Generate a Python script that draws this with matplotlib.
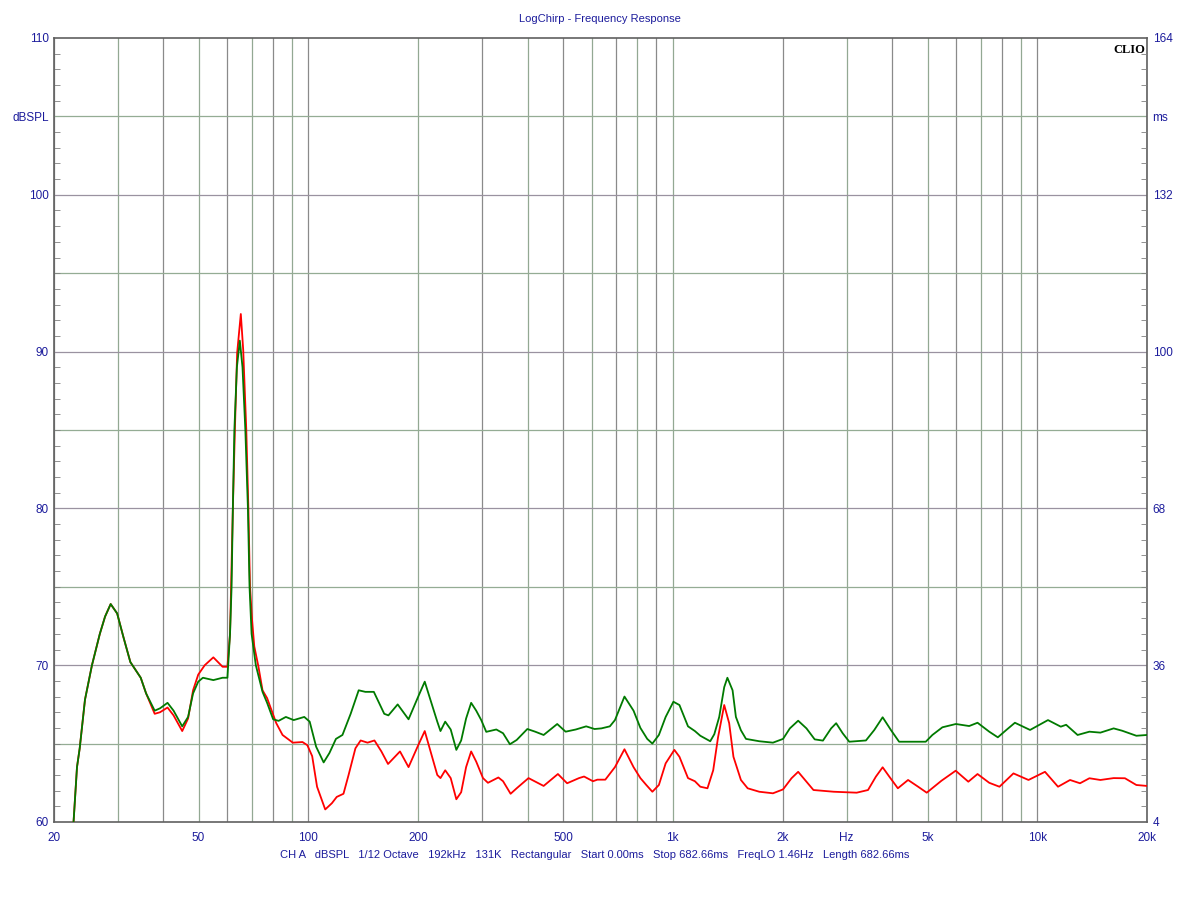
import numpy as np
import matplotlib
matplotlib.use("Agg")
import matplotlib.pyplot as plt

# green trace (frequency in Hz, level in dBSPL)
green_f = [22.7, 23.2, 23.6, 24.4, 25.5, 26.8, 27.7, 28.7, 29.9, 31.1, 32.5, 34.7,
           35.9, 37.9, 39.2, 41.1, 42.7, 45.1, 46.8, 48.3, 49.9, 51.4, 54.9, 58.2,
           60.0, 61.0, 61.6, 62.1, 62.7, 63.7, 64.9, 66.0, 67.2, 68.3, 69.0, 69.9,
           71.8, 74.9, 77.1, 80.1, 82.9, 86.8, 91.2, 97.5, 100.9, 105.1, 110.2, 114.3,
           119.1, 124.1, 130.7, 137.5, 143.4, 151.3, 161.6, 165.9, 175.9, 188.4, 200.3,
           208.7, 225.9, 230.5, 237.5, 245.9, 254.8, 262.7, 271.0, 279.8, 288.9, 298.2,
           307.8, 328, 342.3, 357.4, 373, 399, 419.3, 442.3, 481.9, 508.2, 542, 578.7,
           610, 637, 672, 694, 737, 780.5, 815, 851, 879, 916, 956, 1004, 1043, 1101,
           1150, 1190, 1267, 1300, 1341, 1384, 1412, 1459, 1490, 1538, 1588, 1727, 1883,
           2007, 2095, 2208, 2327, 2451, 2582, 2719, 2807, 2925, 3049, 3388, 3572, 3765,
           3966, 4177, 4944, 5155, 5492, 5979, 6503, 6856, 7383, 7795, 8224, 8682, 9555,
           10700, 11600, 12000, 12900, 13900, 14900, 16200, 17100, 18700, 20000]
green_db = [60.0, 63.5, 64.7, 67.8, 70.0, 72.0, 73.1, 73.9, 73.3, 71.8, 70.2, 69.2,
            68.2, 67.1, 67.25, 67.6, 67.1, 66.1, 66.7, 68.2, 68.95, 69.2, 69.05, 69.2,
            69.2, 72.0, 75.0, 80.0, 85.0, 89.0, 90.7, 89.0, 85.0, 80.0, 75.0, 72.0,
            70.0, 68.3, 67.6, 66.55, 66.45, 66.7, 66.5, 66.7, 66.4, 64.8, 63.8, 64.4,
            65.3, 65.55, 66.9, 68.4, 68.3, 68.3, 66.9, 66.8, 67.5, 66.55, 68.0,
            68.95, 66.4, 65.8, 66.4, 65.9, 64.6, 65.2, 66.6, 67.6, 67.1, 66.5,
            65.75, 65.9, 65.66, 64.96, 65.23, 65.93, 65.76, 65.55, 66.25, 65.76, 65.9, 66.1,
            65.93, 65.97, 66.1, 66.5, 68.0, 67.1, 66.0, 65.3, 65.0, 65.55, 66.7, 67.67, 67.46, 66.1,
            65.8, 65.5, 65.15, 65.6, 66.7, 68.6, 69.2, 68.4, 66.7, 65.85, 65.3, 65.15, 65.06,
            65.3, 65.97, 66.46, 65.97, 65.27, 65.19, 65.97, 66.3, 65.66, 65.12, 65.2, 65.87, 66.68,
            65.87, 65.12, 65.12, 65.55, 66.04, 66.25, 66.12, 66.33, 65.76, 65.4, 65.87, 66.33, 65.87,
            66.5, 66.08, 66.2, 65.55, 65.76, 65.7, 65.97, 65.82, 65.5, 65.55]

# red trace
red_f = [22.7, 23.2, 23.6, 24.4, 25.5, 26.8, 27.7, 28.7, 29.9, 31.1, 32.5, 34.7,
         35.9, 37.9, 39.2, 41.1, 42.7, 45.1, 46.8, 48.3, 49.9, 52.0, 54.9, 58.2,
         60.0, 61.0, 62.1, 62.9, 63.8, 65.3, 66.3, 67.6, 68.5, 69.2, 70.1, 71.1,
         73.0, 74.9, 77.1, 81.7, 85.0, 90.7, 96.4, 99.4, 102.5, 105.7, 111.3, 116.1,
         119.7, 124.9, 129.0, 134.7, 139.2, 145.4, 151.9, 158.7, 165.5, 178.5, 188.4,
         200.3, 208.7, 225.9, 230.5, 237.5, 245.9, 254.8, 262.7, 271.0, 279.8, 288.9,
         301.5, 311.1, 332.3, 342.3, 359, 373, 402, 442.3, 484, 513, 553, 571, 604, 621,
         653, 694, 737, 780.5, 815, 846, 879, 916, 956, 1010, 1043, 1101, 1150, 1190,
         1245, 1291, 1331, 1384, 1428, 1467, 1538, 1605, 1727, 1883, 2007, 2117, 2208,
         2306, 2432, 2763, 3196, 3433, 3607, 3765, 3928, 4145, 4421, 4711, 4974, 5458,
         5972, 6469, 6856, 7383, 7875, 8603, 9460, 10500, 11400, 12300, 13100, 13900,
         14900, 16200, 17400, 18700, 20000]
red_db = [60.0, 63.5, 64.7, 67.8, 70.0, 72.0, 73.1, 73.9, 73.3, 71.8, 70.2, 69.2,
          68.2, 66.9, 67.0, 67.3, 66.8, 65.8, 66.6, 68.4, 69.4, 70.0, 70.5, 69.9,
          69.9, 72.0, 80.0, 85.0, 89.9, 92.4, 90.1, 85.0, 80.0, 75.0, 72.9, 71.2,
          69.9, 68.4, 67.9, 66.3, 65.55, 65.06, 65.1, 64.9, 64.2, 62.25, 60.8, 61.2,
          61.6, 61.8, 63.0, 64.7, 65.2, 65.06, 65.2, 64.5, 63.7, 64.5, 63.5,
          64.9, 65.8, 63.0, 62.8, 63.3, 62.8, 61.45, 61.9, 63.5, 64.5, 63.85,
          62.8, 62.5, 62.84, 62.6, 61.8, 62.15, 62.8, 62.3, 63.06, 62.47, 62.8, 62.9, 62.6, 62.7,
          62.7, 63.5, 64.64, 63.5, 62.8, 62.36, 61.93, 62.36, 63.74, 64.6, 64.16, 62.8, 62.6, 62.25,
          62.15, 63.3, 65.4, 67.46, 66.3, 64.16, 62.68, 62.15, 61.93, 61.83, 62.08, 62.79, 63.2,
          62.68, 62.04, 61.93, 61.87, 62.04, 62.89, 63.49, 62.89, 62.15, 62.68, 62.25, 61.87, 62.63,
          63.27, 62.57, 63.06, 62.5, 62.25, 63.1, 62.68, 63.2, 62.25, 62.68, 62.47, 62.79,
          62.68, 62.8, 62.79, 62.36, 62.3]

x_ticks = [20, 50, 100, 200, 500, 1000, 2000, 3000, 5000, 10000, 20000]
x_labels = ['20', '50', '100', '200', '500', '1k', '2k', 'Hz', '5k', '10k', '20k']
y_ticks = [60, 70, 80, 90, 100, 105, 110]
y_labels = ['60', '70', '80', '90', '100', 'dBSPL', '110']
ms_ticks = [4, 36, 68, 100, 132, 148, 164]
ms_labels = ['4', '36', '68', '100', '132', 'ms', '164']

blue = '#1c1c9c'
plt.rcParams['font.family'] = ['Liberation Sans', 'DejaVu Sans']

fig = plt.figure(figsize=(12, 9), dpi=100, facecolor='w')
ax = fig.add_axes([53.5/1200, 1-822/900, 1093.5/1200, 784/900])
ax.set_xscale('log')
ax.set_xlim(20, 20000)
ax.set_ylim(60, 110)

# grid
grid_x = [m * 10**d for d in range(1, 5) for m in range(1, 10) if 20 <= m * 10**d <= 20000]
for i, g in enumerate(grid_x):
    c = '#8a8a8a' if i % 2 == 0 else '#93a893'
    ax.axvline(g, color=c, lw=0.9, zorder=1)
for v in range(65, 110, 5):
    c = '#94ac94' if v % 10 == 5 else '#9a92a0'
    ax.axhline(v, color=c, lw=0.9, zorder=1)

ax.plot(red_f, red_db, color='#ff0000', lw=1.3, zorder=3, solid_joinstyle='round')
ax.plot(green_f, green_db, color='#007a00', lw=1.3, zorder=4, solid_joinstyle='round')

ax.set_xticks(x_ticks)
ax.set_xticklabels(x_labels)
ax.xaxis.set_minor_locator(matplotlib.ticker.NullLocator())
ax.tick_params(axis='x', length=0, pad=7, labelsize=8.5, labelcolor=blue)

ax.set_yticks(y_ticks)
ax.set_yticklabels(y_labels)
ax.set_yticks(np.arange(60, 111, 1), minor=True)
ax.tick_params(axis='y', which='major', length=0, pad=3.5, labelsize=8.5, labelcolor=blue)
ax.tick_params(axis='y', which='minor', direction='in', length=4, color='#808080',
               left=True, right=True)

for s in ax.spines.values():
    s.set_color('#606060')
    s.set_linewidth(1.2)

ax2 = ax.twinx()
ax2.set_ylim(4, 164)
ax2.set_yticks(ms_ticks)
ax2.set_yticklabels(ms_labels)
ax2.set_yticks(np.arange(4, 165, 3.2), minor=True)
ax2.tick_params(axis='y', which='major', length=0, pad=4, labelsize=8.5, labelcolor=blue)
ax2.tick_params(axis='y', which='minor', direction='in', length=4, color='#808080')
for s in ax2.spines.values():
    s.set_visible(False)

fig.text(0.5, 1-19/900, 'LogChirp - Frequency Response', ha='center', va='center',
         fontsize=8, color=blue)
fig.text(595/1200, 1-855/900,
         'CH A   dBSPL   1/12 Octave   192kHz   131K   Rectangular   Start 0.00ms   '
         'Stop 682.66ms   FreqLO 1.46Hz   Length 682.66ms',
         ha='center', va='center', fontsize=8, color=blue)
ax.text(0.9985, 0.992, 'CLIO', transform=ax.transAxes, ha='right', va='top',
        fontsize=9, fontweight='bold', family='Liberation Serif', color='black', zorder=5)

fig.savefig('out.png', dpi=100, facecolor='w')
